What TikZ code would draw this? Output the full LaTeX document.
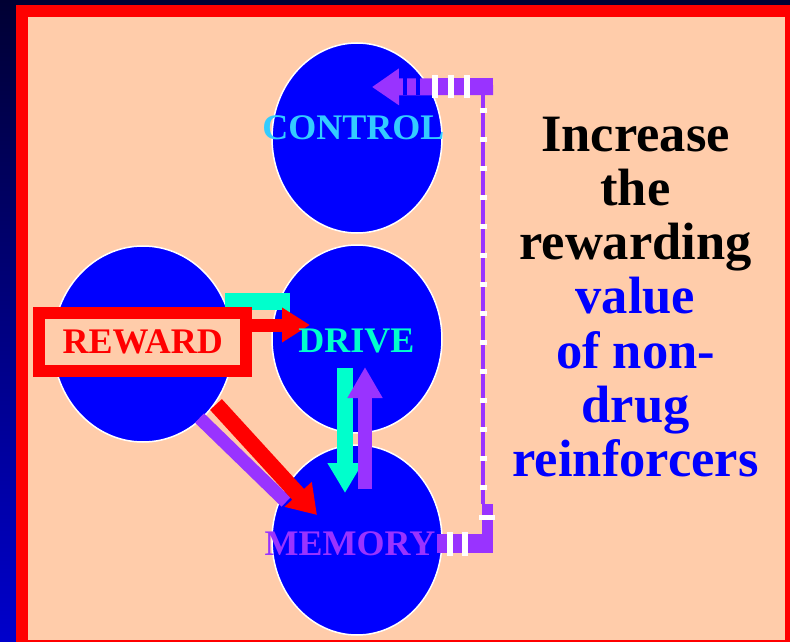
\documentclass[tikz,border=0pt]{standalone}
\usepackage{fontspec}
\setmainfont{Liberation Serif}
\usetikzlibrary{positioning,shapes.geometric,arrows.meta}
\definecolor{peach}{RGB}{255,204,170}
\definecolor{blobblue}{RGB}{0,0,255}
\definecolor{lilac}{RGB}{153,51,255}
\definecolor{aqua}{RGB}{0,255,204}
\definecolor{sky}{RGB}{51,204,255}
\definecolor{navy}{RGB}{0,0,51}
\definecolor{deepblue}{RGB}{0,0,204}

\begin{document}
\begin{tikzpicture}[x=1pt, y=-1pt,
	blob/.style={ellipse, fill=blobblue, draw=white, line width=1.5pt,
	minimum width=170pt, minimum height=190pt, inner sep=0pt},
	lbl/.style={font=\fontsize{36}{36}\selectfont\bfseries, inner sep=0pt, anchor=base},
	fat/.style={line width=#1},
	bigtip/.style={-{Triangle[length=#1,width=33pt]}},
	bigtip/.default=29pt
	]
	\useasboundingbox (0,0) rectangle (790,642);
	\shade[top color=navy, bottom color=deepblue] (0,0) rectangle (790,642);
	\fill[red] (16,5) rectangle (790,642);
	\fill[peach] (28,17) rectangle (785,640);
	
	\node[blob] (control) at (357,138) {};
	\node[blob, minimum height=188pt] (drive) at (357,339) {};
	\node[blob] (memory) at (357,540) {};
	\node[blob, minimum width=180pt, minimum height=196pt] (reward) at (143,344) {};
	
	% end points of the connectors
	\coordinate (dtip) at (310,325);
	\coordinate (d1) at (345,368);
	\coordinate (m1) at (345,493);
	\coordinate (m2) at (365,489);
	\coordinate (d2) at (365,367);
	\coordinate (r1) at (216,404.5);
	\coordinate (m3) at (317,515);
	\coordinate (r2) at (199.5,418);
	\coordinate (m4) at (286,502);
	\coordinate (ctip) at (372,87);
	
	\draw[aqua, fat=17pt] (225,301.5) -- (290,301.5);
	\draw[aqua, fat=8pt] (286,293) -- (286,318);
	
	\node[draw=red, line width=12pt, fill=peach, minimum width=207pt, 
	minimum height=58pt, inner sep=0pt, text=red,
	font=\fontsize{36}{36}\selectfont\bfseries] (rwbox) at (142.75,341.75) {REWARD};
	
	\draw[red, fat=13pt, bigtip=28pt] (rwbox.east |- dtip) -- (dtip);
	\draw[aqua, fat=16pt, bigtip=30pt] (d1) -- (m1);
	\draw[lilac, fat=14pt, bigtip=31pt] (m2) -- (d2);
	\draw[lilac, fat=13pt] (r2) -- (m4);
	\draw[red, fat=16pt, -{Triangle[length=28pt,width=35pt]}] (r1) -- (m3);
	
	% feedback from memory back to control
	\draw[lilac, fat=3.5pt] (483,504) -- (483,95);
	\draw[white, fat=7pt, dash pattern=on 5pt off 24pt] (483,490) -- (483,100);
	\draw[lilac, fat=19pt] (437,543.5) -- (493,543.5);
	\draw[lilac, fat=11pt] (487.5,553) -- (487.5,504);
	\draw[lilac, fat=17pt, -{Triangle[length=27pt,width=35pt]}] (493,86.5) -- (ctip);
	\foreach \x in {450,465} \draw[white, fat=6pt] (\x,532) -- (\x,556);
	\draw[white, fat=5pt] (479,517) -- (495,517);
	\foreach \x in {435,451,467} \draw[white, fat=6pt] (\x,75) -- (\x,98);
	\foreach \x in {405,418} \draw[blobblue, fat=4pt] (\x,78) -- (\x,95);
	
	\node[lbl, sky] (ctrl) at (353.5,139) {CONTROL};
	\node[lbl, aqua] (drv) at (356.5,352) {DRIVE};
	\node[lbl, lilac] (mem) at (350,555) {MEMORY};
	
	\node[font=\fontsize{52.5}{54.2}\selectfont\bfseries, align=center] (goal) 
	at (635.5,297) {Increase\\the\\rewarding\\\textcolor{blobblue}{value}\\
	\textcolor{blobblue}{of non-}\\\textcolor{blobblue}{drug}\\
	\textcolor{blobblue}{reinforcers}};
\end{tikzpicture}
\end{document}
